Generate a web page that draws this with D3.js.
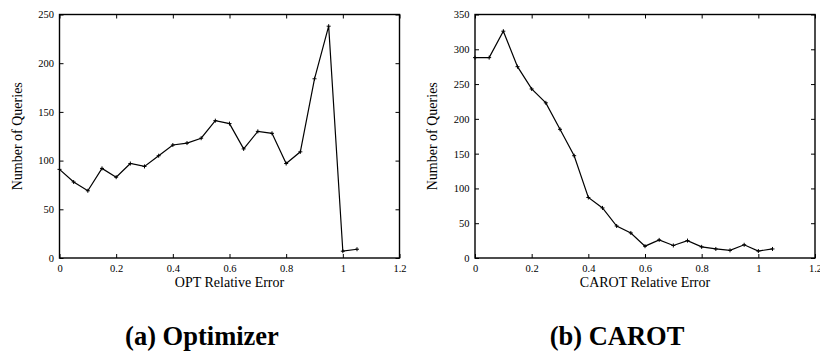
<!DOCTYPE html>
<html>
<head>
<meta charset="utf-8">
<script src="https://cdn.jsdelivr.net/npm/d3@7"></script>
<style>
  html, body { margin: 0; padding: 0; background: #fff; }
  svg { display: block; }
  text { font-family: "Liberation Serif", "Times New Roman", "DejaVu Serif", serif; fill: #000; }
</style>
</head>
<body>
<svg id="chart" width="820" height="351"></svg>
<script>
// ---- data ----
const relError = [0, 0.05, 0.1, 0.15, 0.2, 0.25, 0.3, 0.35, 0.4, 0.45, 0.5, 0.55,
                  0.6, 0.65, 0.7, 0.75, 0.8, 0.85, 0.9, 0.95, 1.0, 1.05];
const optQueries = [91, 78, 69, 92, 83, 97, 94, 105, 116, 118, 123, 141,
                    138, 112, 130, 128, 97, 109, 184, 238, 7, 9];
const carotQueries = [288, 288, 326, 275, 243, 223, 185, 147, 87, 72, 46, 36,
                      17, 26, 18, 25, 16, 13, 11, 19, 10, 13];
const xTickValues = [0, 0.2, 0.4, 0.6, 0.8, 1.0, 1.2];
const xTickLabels = ["0", "0.2", "0.4", "0.6", "0.8", "1", "1.2"];
const optYTicks = [0, 50, 100, 150, 200, 250];
const carotYTicks = [0, 50, 100, 150, 200, 250, 300, 350];
const xTitles = ["OPT Relative Error", "CAROT Relative Error"];
const yTitle = "Number of Queries";
const captions = ["(a) Optimizer", "(b) CAROT"];

const FONT = '"Liberation Serif", "Times New Roman", "DejaVu Serif", serif';
const svg = d3.select("#chart");

const panels = [
  { left: 59.5, right: 399.5, top: 14.5, bottom: 258, ymax: 250, yTicks: optYTicks,
    values: optQueries, xTitle: xTitles[0], yTitleX: 17.5, caption: captions[0], capX: 202 },
  { left: 475, right: 815, top: 14.5, bottom: 258, ymax: 350, yTicks: carotYTicks,
    values: carotQueries, xTitle: xTitles[1], yTitleX: 432.5, caption: captions[1], capX: 617 }
];

panels.forEach(p => {
  const x = d3.scaleLinear().domain([0, 1.2]).range([p.left, p.right]);
  const y = d3.scaleLinear().domain([0, p.ymax]).range([p.bottom, p.top]);
  const g = svg.append("g");
  const fmt = (d) => xTickLabels[xTickValues.indexOf(d)];

  const gb = g.append("g").attr("transform", `translate(0,${p.bottom})`)
    .call(d3.axisBottom(x).tickValues(xTickValues).tickFormat(fmt).tickSize(-4).tickPadding(7));
  const gt = g.append("g").attr("transform", `translate(0,${p.top})`)
    .call(d3.axisTop(x).tickValues(xTickValues).tickFormat("").tickSize(-4));
  const gl = g.append("g").attr("transform", `translate(${p.left},0)`)
    .call(d3.axisLeft(y).tickValues(p.yTicks).tickFormat(d3.format("d")).tickSize(-4).tickPadding(5.5));
  const gr = g.append("g").attr("transform", `translate(${p.right},0)`)
    .call(d3.axisRight(y).tickValues(p.yTicks).tickFormat("").tickSize(-4));

  [gb, gt, gl, gr].forEach(a => {
    a.attr("font-family", FONT);
    a.select(".domain").remove();
    a.selectAll(".tick line").attr("stroke", "#000").attr("stroke-width", 1);
    a.selectAll(".tick text").attr("font-size", 10.5).attr("font-family", FONT).attr("fill", "#000");
  });

  g.append("rect")
    .attr("x", p.left).attr("y", p.top)
    .attr("width", p.right - p.left).attr("height", p.bottom - p.top)
    .attr("fill", "none").attr("stroke", "#000").attr("stroke-width", 1.4);

  const pts = relError.map((e, i) => [e, p.values[i]]);
  g.append("path")
    .datum(pts)
    .attr("fill", "none").attr("stroke", "#000").attr("stroke-width", 1.2)
    .attr("d", d3.line().x(d => x(d[0])).y(d => y(d[1])));

  g.selectAll(".pt").data(pts).enter().append("path")
    .attr("class", "pt")
    .attr("transform", d => `translate(${x(d[0])},${y(d[1])})`)
    .attr("d", "M-2,0H2M0,-2V2")
    .attr("stroke", "#000").attr("stroke-width", 1);

  g.append("text")
    .attr("x", (p.left + p.right) / 2).attr("y", 287)
    .attr("text-anchor", "middle").attr("font-family", FONT).attr("font-size", 14)
    .text(p.xTitle);
  g.append("text")
    .attr("transform", `translate(${p.yTitleX},${(p.top + p.bottom) / 2}) rotate(-90)`)
    .attr("text-anchor", "middle").attr("dominant-baseline", "central")
    .attr("font-family", FONT).attr("font-size", 14)
    .text(yTitle);

  g.append("text")
    .attr("x", p.capX).attr("y", 345)
    .attr("text-anchor", "middle").attr("font-family", FONT)
    .attr("font-size", 26.5).attr("font-weight", "bold")
    .text(p.caption);
});
</script>
</body>
</html>
